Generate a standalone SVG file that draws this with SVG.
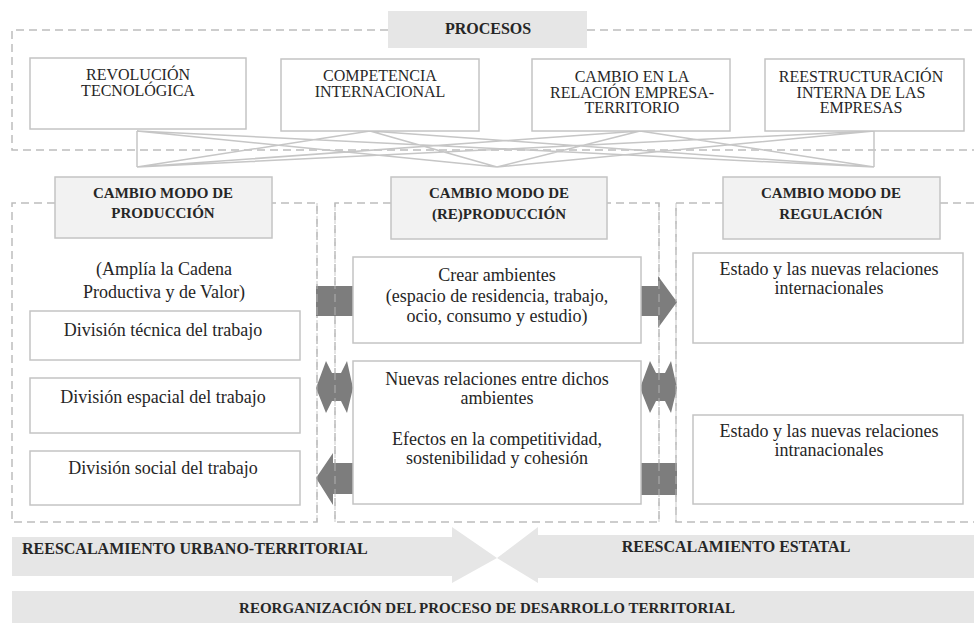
<svg xmlns="http://www.w3.org/2000/svg" width="974" height="625" viewBox="0 0 974 625">
<style>
  .dash{fill:none;stroke:#bdbdbd;stroke-width:1.5;stroke-dasharray:8,5}
  .box{fill:#ffffff;stroke:#c4c4c4;stroke-width:1.5}
  .hdr{fill:#f2f2f2;stroke:#c4c4c4;stroke-width:1.5}
  .band{fill:#e6e6e6}
  .blk{fill:#7d7d7d}
  .cross{fill:none;stroke:#c6c6c6;stroke-width:1.5}
  text{font-family:"Liberation Serif","Times New Roman",serif;fill:#262626;text-anchor:middle}
  .pt{font-size:16px}
  .ht{font-size:15px;font-weight:bold}
  .bt{font-size:18px}
  .lt{font-size:16px;font-weight:bold}
</style>
<rect width="974" height="625" fill="#ffffff"/>

<g id="containers">
  <path class="dash" d="M388,30 H12 V150 H974 M587,30 H974"/>
  <path class="dash" d="M55,203 H12 V522 H317 V203 H272"/>
  <path class="dash" d="M391,203 H335 V522 H659 V203 H607"/>
  <path class="dash" d="M723,203 H676 V522 H974 M940,203 H974"/>
</g>

<g id="connectors">
  <path class="cross" d="M137,131 V167 M137,131 L497,167 M137,131 L874,167
    M370,131 L137,167 M370,131 L497,167 M370,131 L874,167
    M640,131 L137,167 M640,131 L497,167 M640,131 L874,167
    M874,131 L137,167 M874,131 L497,167 M874,131 V167"/>
  <rect class="blk" x="316" y="286" width="37" height="30"/>
  <polygon class="blk" points="641,286 658,286 658,276 677,302 658,328 658,316 641,316"/>
  <polygon class="blk" points="316,388 326,361 332,373 341,373 347,361 353,388 347,413 341,401 332,401 326,413"/>
  <polygon class="blk" points="640,388 650,361 656,373 665,373 671,361 677,388 671,413 665,401 656,401 650,413"/>
  <polygon class="blk" points="353,463 333,463 333,453 316,478 333,505 333,494 353,494"/>
  <rect class="blk" x="641" y="463" width="36" height="32"/>
</g>
<g id="container-overlay">
  <path class="dash" d="M317,203 V522 M335,203 V522 M659,203 V522 M676,203 V522" opacity="0.55" stroke="#d8d8d8"/>
</g>

<g id="procesos">
  <rect class="band" x="388" y="11" width="199" height="37"/>
  <text class="lt" x="488" y="34">PROCESOS</text>
</g>

<g id="revolucion">
  <rect class="box" x="30" y="58" width="216" height="71"/>
  <text class="pt" x="138" y="80">REVOLUCIÓN</text>
  <text class="pt" x="138" y="96">TECNOLÓGICA</text>
</g>
<g id="competencia">
  <rect class="box" x="281" y="59" width="198" height="72"/>
  <text class="pt" x="380" y="81">COMPETENCIA</text>
  <text class="pt" x="380" y="97">INTERNACIONAL</text>
</g>
<g id="cambio-relacion">
  <rect class="box" x="532" y="59" width="198" height="72"/>
  <text class="pt" x="632" y="82">CAMBIO EN LA</text>
  <text class="pt" x="632" y="97.5">RELACIÓN EMPRESA-</text>
  <text class="pt" x="632" y="113">TERRITORIO</text>
</g>
<g id="reestructuracion">
  <rect class="box" x="765" y="59" width="199" height="72"/>
  <text class="pt" x="861" y="82">REESTRUCTURACIÓN</text>
  <text class="pt" x="861" y="97.5">INTERNA DE LAS</text>
  <text class="pt" x="861" y="113">EMPRESAS</text>
</g>

<g id="modo-produccion">
  <rect class="hdr" x="55" y="177" width="217" height="61"/>
  <text class="ht" x="163" y="198">CAMBIO MODO DE</text>
  <text class="ht" x="163" y="218">PRODUCCIÓN</text>
</g>
<g id="modo-reproduccion">
  <rect class="hdr" x="391" y="177" width="216" height="62"/>
  <text class="ht" x="499" y="198">CAMBIO MODO DE</text>
  <text class="ht" x="499" y="219">(RE)PRODUCCIÓN</text>
</g>
<g id="modo-regulacion">
  <rect class="hdr" x="723" y="177" width="217" height="62"/>
  <text class="ht" x="831" y="198">CAMBIO MODO DE</text>
  <text class="ht" x="831" y="219">REGULACIÓN</text>
</g>

<g id="amplia">
  <text class="bt" x="164" y="275">(Amplía la Cadena</text>
  <text class="bt" x="164" y="298">Productiva y de Valor)</text>
</g>
<g id="division-tecnica">
  <rect class="box" x="30" y="311" width="270" height="49"/>
  <text class="bt" x="163" y="336">División técnica del trabajo</text>
</g>
<g id="division-espacial">
  <rect class="box" x="30" y="378" width="270" height="55"/>
  <text class="bt" x="163" y="403">División espacial del trabajo</text>
</g>
<g id="division-social">
  <rect class="box" x="30" y="451" width="270" height="54"/>
  <text class="bt" x="163" y="474">División social del trabajo</text>
</g>

<g id="crear-ambientes">
  <rect class="box" x="353" y="257" width="288" height="86"/>
  <text class="bt" x="497" y="281">Crear ambientes</text>
  <text class="bt" x="497" y="302">(espacio de residencia, trabajo,</text>
  <text class="bt" x="497" y="322">ocio, consumo y estudio)</text>
</g>
<g id="nuevas-relaciones">
  <rect class="box" x="353" y="361" width="288" height="143"/>
  <text class="bt" x="497" y="385">Nuevas relaciones entre dichos</text>
  <text class="bt" x="497" y="404">ambientes</text>
  <text class="bt" x="497" y="445">Efectos en la competitividad,</text>
  <text class="bt" x="497" y="464">sostenibilidad y cohesión</text>
</g>

<g id="estado-internacionales">
  <rect class="box" x="693" y="253" width="270" height="90"/>
  <text class="bt" x="829" y="275">Estado y las nuevas relaciones</text>
  <text class="bt" x="829" y="294">internacionales</text>
</g>
<g id="estado-intranacionales">
  <rect class="box" x="693" y="415" width="270" height="89"/>
  <text class="bt" x="829" y="437">Estado y las nuevas relaciones</text>
  <text class="bt" x="829" y="456">intranacionales</text>
</g>

<g id="reescalamiento-urbano">
  <polygon class="band" points="12,537 452,537 452,527 497,558 452,583 452,576 12,576"/>
  <text class="lt" x="22" y="554" style="text-anchor:start">REESCALAMIENTO URBANO-TERRITORIAL</text>
</g>
<g id="reescalamiento-estatal">
  <polygon class="band" points="974,535 538,535 538,527 497,558 538,583 538,578 974,578"/>
  <text class="lt" x="736" y="552">REESCALAMIENTO ESTATAL</text>
</g>
<g id="reorganizacion">
  <rect class="band" x="12" y="591" width="962" height="32"/>
  <text class="ht" x="487" y="613">REORGANIZACIÓN DEL PROCESO DE DESARROLLO TERRITORIAL</text>
</g>
</svg>
